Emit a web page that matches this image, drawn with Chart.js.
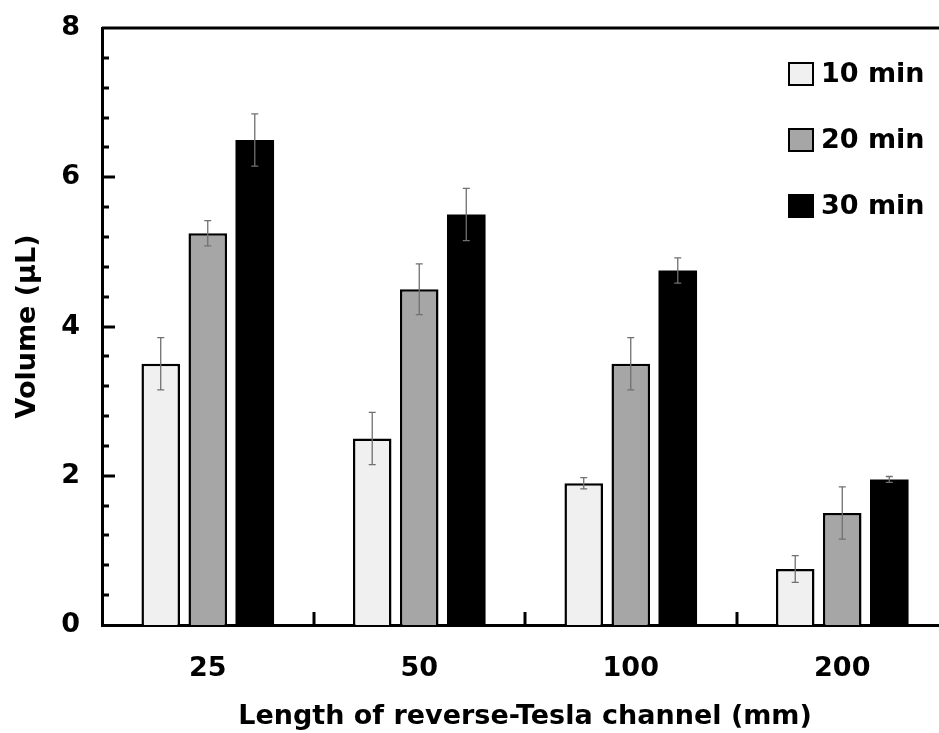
<!DOCTYPE html>
<html lang="en">
<head>
    <meta charset="UTF-8">
    <title>Volume vs channel length</title>
    <style>
        html, body {
            margin: 0;
            padding: 0;
            background: #fff;
            overflow: hidden;
        }
        canvas {
            display: block;
        }
    </style>
</head>
<body>
    <canvas id="myChart" width="950" height="733"></canvas>
    <script src="https://cdn.jsdelivr.net/npm/chart.js@4.4.1/dist/chart.umd.min.js"></script>
    <script>
        // data
        const lengths = ['25', '50', '100', '200'];
        const seriesNames = ['10 min', '20 min', '30 min'];
        const vol10 = [3.5, 2.5, 1.9, 0.75];
        const vol20 = [5.25, 4.5, 3.5, 1.5];
        const vol30 = [6.5, 5.5, 4.75, 1.95];
        const err10 = [0.35, 0.35, 0.075, 0.18];
        const err20 = [0.17, 0.34, 0.35, 0.35];
        const err30 = [0.35, 0.35, 0.17, 0.04];
        const yTicks = [0, 2, 4, 6, 8];

        const FONT = '"DejaVu Sans", sans-serif';
        const FSIZE = 27;

        // frame line on top/right, inside ticks, error bars, legend
        const extras = {
            id: 'extras',
            afterDatasetsDraw(chart) {
                const ctx = chart.ctx;
                const yS = chart.scales.y;
                const xS = chart.scales.x;
                const a = chart.chartArea;

                // error bars
                ctx.save();
                ctx.strokeStyle = '#707070';
                ctx.lineWidth = 1.3;
                chart.data.datasets.forEach((ds, i) => {
                    const meta = chart.getDatasetMeta(i);
                    meta.data.forEach((bar, j) => {
                        const v = ds.data[j], e = ds.errors[j];
                        const yTop = yS.getPixelForValue(v + e);
                        const yBot = yS.getPixelForValue(v - e);
                        ctx.beginPath();
                        ctx.moveTo(bar.x, yTop);
                        ctx.lineTo(bar.x, yBot);
                        ctx.moveTo(bar.x - 3.5, yTop);
                        ctx.lineTo(bar.x + 3.5, yTop);
                        ctx.moveTo(bar.x - 3.5, yBot);
                        ctx.lineTo(bar.x + 3.5, yBot);
                        ctx.stroke();
                    });
                });
                ctx.restore();

                ctx.save();
                ctx.strokeStyle = '#000';
                ctx.lineWidth = 3;
                // top and right border
                ctx.beginPath();
                ctx.moveTo(a.left, a.top);
                ctx.lineTo(a.right, a.top);
                ctx.lineTo(a.right, a.bottom);
                ctx.stroke();

                // y ticks inside, minor every 0.4
                for (let k = 1; k < 20; k++) {
                    const v = k * 0.4;
                    const py = Math.round(yS.getPixelForValue(v));
                    const major = k % 5 === 0;
                    ctx.beginPath();
                    ctx.moveTo(a.left, py);
                    ctx.lineTo(a.left + (major ? 13 : 7), py);
                    ctx.stroke();
                }
                // x ticks between categories
                for (let i = 1; i < lengths.length; i++) {
                    const px = Math.round((xS.getPixelForTick(i - 1) + xS.getPixelForTick(i)) / 2);
                    ctx.beginPath();
                    ctx.moveTo(px, a.bottom);
                    ctx.lineTo(px, a.bottom - 13);
                    ctx.stroke();
                }
                ctx.restore();

                // legend
                ctx.save();
                ctx.font = 'bold ' + FSIZE + 'px ' + FONT;
                ctx.textBaseline = 'middle';
                chart.data.datasets.forEach((ds, i) => {
                    const cy = 74 + i * 66;
                    ctx.fillStyle = ds.backgroundColor;
                    ctx.fillRect(789, cy - 11, 24, 22);
                    ctx.strokeStyle = '#000';
                    ctx.lineWidth = 2;
                    ctx.strokeRect(789, cy - 11, 24, 22);
                    ctx.fillStyle = '#000';
                    ctx.fillText(ds.label, 821, cy + 1);
                });
                ctx.restore();
            }
        };

        const ctx = document.getElementById('myChart').getContext('2d');
        const myChart = new Chart(ctx, {
            type: 'bar',
            data: {
                labels: lengths,
                datasets: [{
                    label: seriesNames[0],
                    data: vol10,
                    errors: err10,
                    backgroundColor: '#f0f0f0',
                    borderColor: '#000',
                    borderWidth: 2.5
                }, {
                    label: seriesNames[1],
                    data: vol20,
                    errors: err20,
                    backgroundColor: '#a6a6a6',
                    borderColor: '#000',
                    borderWidth: 2.5
                }, {
                    label: seriesNames[2],
                    data: vol30,
                    errors: err30,
                    backgroundColor: '#000',
                    borderColor: '#000',
                    borderWidth: 0
                }]
            },
            options: {
                responsive: false,
                animation: false,
                devicePixelRatio: 1,
                categoryPercentage: 0.667,
                barPercentage: 0.82,
                layout: {
                    padding: { top: 28, right: 2, left: 0, bottom: 0 }
                },
                plugins: {
                    legend: { display: false },
                    tooltip: { enabled: false }
                },
                scales: {
                    x: {
                        offset: true,
                        grid: { display: false, drawTicks: false },
                        border: { display: true, color: '#000', width: 3 },
                        ticks: {
                            color: '#000',
                            padding: 28,
                            font: { family: FONT, size: FSIZE, weight: 'bold' }
                        },
                        title: {
                            display: true,
                            text: 'Length of reverse-Tesla channel (mm)',
                            color: '#000',
                            padding: { top: 0, bottom: 0 },
                            font: { family: FONT, size: FSIZE, weight: 'bold' }
                        },
                        afterFit(scale) {
                            scale.height = 108;
                            scale.paddingLeft = 0;
                            scale.paddingRight = 0;
                        }
                    },
                    y: {
                        min: 0,
                        max: 8,
                        afterBuildTicks(scale) {
                            scale.ticks = yTicks.map(v => ({ value: v }));
                        },
                        grid: { display: false, drawTicks: false },
                        border: { display: true, color: '#000', width: 3 },
                        ticks: {
                            color: '#000',
                            padding: 22,
                            font: { family: FONT, size: FSIZE, weight: 'bold' }
                        },
                        title: {
                            display: true,
                            text: 'Volume (µL)',
                            color: '#000',
                            padding: { top: 12, bottom: 0 },
                            font: { family: FONT, size: FSIZE, weight: 'bold' }
                        },
                        afterFit(scale) {
                            scale.width = 102;
                            scale.paddingTop = 0;
                            scale.paddingBottom = 0;
                        }
                    }
                }
            },
            plugins: [extras]
        });
    </script>
</body>
</html>
